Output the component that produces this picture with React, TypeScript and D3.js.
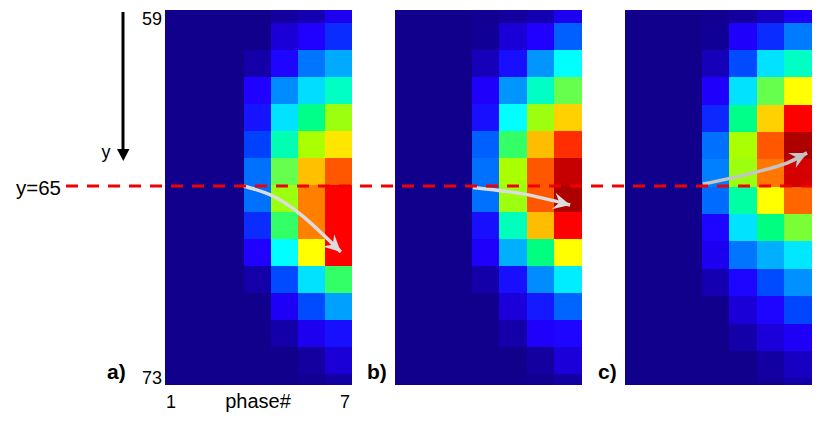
import { useMemo } from 'react'
import * as d3 from 'd3'

const W = 821
const H = 428
const FONT = '"Liberation Sans", Arial, sans-serif'

const ROWS = d3.range(59, 74)
const PHASES = [1, 2, 3, 4, 5, 6, 7]

// phases 1-3 are flat background, values below start at phase 4
const PANEL_A = [
  [0, 0.02, 0.04, 0.11],
  [0, 0.08, 0.125, 0.17],
  [0.03, 0.13, 0.24, 0.29],
  [0.125, 0.26, 0.34, 0.41],
  [0.145, 0.345, 0.445, 0.54],
  [0.19, 0.42, 0.55, 0.65],
  [0.235, 0.5, 0.6875, 0.79],
  [0.235, 0.54, 0.75, 0.875],
  [0.17, 0.475, 0.75, 0.875],
  [0.125, 0.375, 0.625, 0.875],
  [0.03, 0.2, 0.345, 0.475],
  [0, 0.115, 0.2, 0.28],
  [0, 0.03, 0.11, 0.14],
  [0, 0, 0.02, 0.08],
  [0, 0, 0.005, 0.025],
]
const PANEL_B = [
  [0.005, 0.02, 0.04, 0.11],
  [0.01, 0.08, 0.125, 0.22],
  [0.05, 0.14, 0.27, 0.375],
  [0.12, 0.27, 0.41, 0.5],
  [0.14, 0.375, 0.54, 0.67],
  [0.22, 0.475, 0.69, 0.83],
  [0.235, 0.55, 0.79, 0.95],
  [0.235, 0.54, 0.79, 0.98],
  [0.14, 0.415, 0.69, 0.875],
  [0.12, 0.295, 0.45, 0.625],
  [0.03, 0.14, 0.26, 0.355],
  [0, 0.085, 0.15, 0.225],
  [0, 0.03, 0.12, 0.13],
  [0, 0, 0.02, 0.085],
  [0, 0, 0.005, 0.025],
]
const PANEL_C = [
  [0.005, 0.02, 0.06, 0.115],
  [0.01, 0.12, 0.17, 0.245],
  [0.05, 0.2, 0.345, 0.41],
  [0.12, 0.345, 0.5, 0.625],
  [0.165, 0.445, 0.67, 0.875],
  [0.235, 0.55, 0.79, 0.98],
  [0.25, 0.54, 0.76, 0.93],
  [0.23, 0.43, 0.625, 0.775],
  [0.13, 0.345, 0.45, 0.515],
  [0.11, 0.24, 0.295, 0.35],
  [0.04, 0.13, 0.2, 0.265],
  [0, 0.08, 0.13, 0.195],
  [0, 0.03, 0.085, 0.115],
  [0, 0, 0.025, 0.06],
  [0, 0, 0.005, 0.03],
]

// arrows as [phase, y] so they follow the panel scales
const TREND_A: [number, number][] = [[3.5, 65.55], [4.58, 65.92], [5.58, 66.58], [7.09, 67.99]]
const TREND_B: [number, number][] = [[3.55, 65.6], [5.36, 65.84], [7.07, 66.25]]
const TREND_C: [number, number][] = [[3.55, 65.4], [5.36, 64.99], [6.59, 64.63], [7.32, 64.26]]

const REF_ROW = 65.55 // dashed line sits on the cell edge, not the centre

const color = d3
  .scaleLinear<string>()
  .domain([0, 0.125, 0.19, 0.25, 0.31, 0.375, 0.45, 0.5, 0.55, 0.625, 0.75, 0.875, 1])
  .range(['#10008c', '#2000ff', '#0040ff', '#0080ff', '#00c0ff', '#00ffff', '#00ff80', '#66ff4d', '#aaff00', '#ffff00', '#ff8000', '#ff0000', '#a00000'])
  .clamp(true)

const PANELS = [
  { id: 'a', left: 165, right: 352, cw: 27.1, firstEdge: 22.7, rh: 27, data: PANEL_A, trend: TREND_A, stroke: '#dcdcdc', label: 'a)', labelX: 107 },
  { id: 'b', left: 395, right: 582, cw: 27.6, firstEdge: 22.7, rh: 27, data: PANEL_B, trend: TREND_B, stroke: '#dcdcdc', label: 'b)', labelX: 367 },
  { id: 'c', left: 625, right: 812, cw: 27.6, firstEdge: 22.7, rh: 27.35, data: PANEL_C, trend: TREND_C, stroke: '#c4c4c4', label: 'c)', labelX: 598 },
]
const TOP = 10
const BOTTOM = 385

function Panel({ p }: { p: (typeof PANELS)[number] }) {
  const x = d3.scaleLinear().domain([7.5, 0.5]).range([p.right, p.right - 7 * p.cw])
  const y = d3.scaleLinear().domain([59.5, 60.5]).range([p.firstEdge, p.firstEdge + p.rh])

  const pts = p.trend.map(([a, b]) => [x(a), y(b)] as [number, number])
  const path = d3.line().curve(d3.curveCatmullRom)(pts) || ''
  const [x0, y0] = pts[pts.length - 2]
  const [x1, y1] = pts[pts.length - 1]
  const ang = (Math.atan2(y1 - y0, x1 - x0) * 180) / Math.PI

  return (
    <g>
      <clipPath id={`clip-${p.id}`}>
        <rect x={p.left} y={TOP} width={p.right - p.left} height={BOTTOM - TOP} />
      </clipPath>
      <g clipPath={`url(#clip-${p.id})`} shapeRendering="crispEdges">
        {ROWS.map((row, i) =>
          PHASES.map((ph) => {
            const v = ph < 4 ? 0 : p.data[i][ph - 4]
            const rx = Math.round(x(ph - 0.5))
            const ry = Math.round(y(row - 0.5))
            return (
              <rect
                key={`${row}-${ph}`}
                x={rx}
                y={ry}
                width={Math.round(x(ph + 0.5)) - rx}
                height={Math.round(y(row + 0.5)) - ry}
                fill={color(v)}
              />
            )
          })
        )}
      </g>
      <path d={path} fill="none" stroke={p.stroke} strokeWidth={3.5} />
      <path
        d="M0,0 L-17,-8.5 L-11,0 L-17,8.5 Z"
        transform={`translate(${x1},${y1}) rotate(${ang})`}
        fill={p.stroke}
      />
      <text x={p.labelX} y={379} fontSize={21} fontWeight="bold" fontFamily={FONT}>
        {p.label}
      </text>
    </g>
  )
}

export default function App() {
  const first = PANELS[0]
  const refY = useMemo(
    () => d3.scaleLinear().domain([59.5, 60.5]).range([first.firstEdge, first.firstEdge + first.rh])(REF_ROW),
    [first]
  )

  return (
    <svg width={W} height={H} style={{ position: 'absolute', left: 0, top: 0, background: '#fff' }}>
      {PANELS.map((p) => (
        <Panel key={p.id} p={p} />
      ))}

      {/* y direction arrow */}
      <line x1={123} x2={123} y1={12} y2={152} stroke="#000" strokeWidth={3} />
      <path d="M117,149 L129.5,149 L123.3,161 Z" fill="#000" />
      <text x={106} y={158} fontSize={18} textAnchor="middle" fontFamily={FONT}>y</text>

      <line x1={66} x2={812} y1={refY} y2={refY} stroke="#f00000" strokeWidth={3} strokeDasharray="12 9" />

      <text x={61} y={194.5} fontSize={20.5} textAnchor="end" fontFamily={FONT}>y=65</text>
      <text x={162} y={25} fontSize={18} textAnchor="end" fontFamily={FONT}>59</text>
      <text x={162} y={384} fontSize={18} textAnchor="end" fontFamily={FONT}>73</text>
      <text x={171} y={408} fontSize={18} textAnchor="middle" fontFamily={FONT}>1</text>
      <text x={258} y={408} fontSize={20} textAnchor="middle" fontFamily={FONT}>phase#</text>
      <text x={345} y={408} fontSize={18} textAnchor="middle" fontFamily={FONT}>7</text>
    </svg>
  )
}
